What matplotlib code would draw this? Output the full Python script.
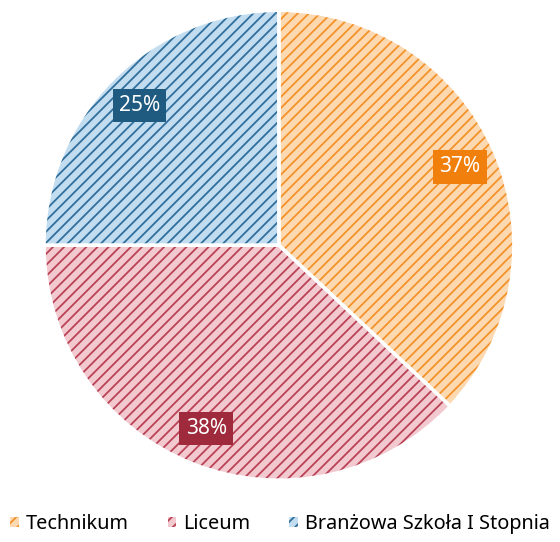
import matplotlib.pyplot as plt
import numpy as np

labels = ["Technikum", "Liceum", "Branżowa Szkoła I Stopnia"]
values = [37, 38, 25]
fill_colors = ["#fdd9b2", "#f1c9cf", "#c2dcf0"]
hatch_colors = ["#f3922a", "#bb4256", "#306f9c"]
box_colors = ["#f07f0c", "#9e2a3b", "#1f5a80"]

plt.rcParams["font.family"] = ["Noto Sans", "DejaVu Sans"]
plt.rcParams["hatch.linewidth"] = 1.3

fig = plt.figure(figsize=(5.6, 5.42), dpi=100)
ax = fig.add_axes([0.0786, 0.114, 0.839, 0.867])

wedges, _ = ax.pie(values, startangle=90, counterclock=False,
                   colors=fill_colors, wedgeprops=dict(linewidth=0))
for w, hc in zip(wedges, hatch_colors):
    w.set_hatch("///")
    w.set_edgecolor(hc)

# white borders between slices
ax.pie(values, startangle=90, counterclock=False,
       wedgeprops=dict(fill=False, edgecolor="white", linewidth=2.5))

# percentage labels in coloured boxes
total = sum(values)
start = 90.0
for v, bc in zip(values, box_colors):
    ang = start - v / total * 360 / 2
    start -= v / total * 360
    r = 0.84
    x, y = r * np.cos(np.radians(ang)), r * np.sin(np.radians(ang))
    ax.text(x, y, f"{v}%", ha="center", va="center", color="white", fontsize=15,
            bbox=dict(boxstyle="square,pad=0.3", facecolor=bc, edgecolor="none"))

ax.set_aspect("equal")
ax.set_xlim(-1, 1)
ax.set_ylim(-1, 1)

handles = [plt.Rectangle((0, 0), 1, 1, facecolor=f, edgecolor=h, hatch="///", linewidth=0)
           for f, h in zip(fill_colors, hatch_colors)]
fig.legend(handles, labels, loc="lower center", ncol=3, frameon=False,
           fontsize=14.3, handlelength=0.45, handleheight=0.45, handletextpad=0.35,
           columnspacing=1.95, borderaxespad=0, bbox_to_anchor=(0.5, 0.0))

fig.savefig("out.png", dpi=100)
